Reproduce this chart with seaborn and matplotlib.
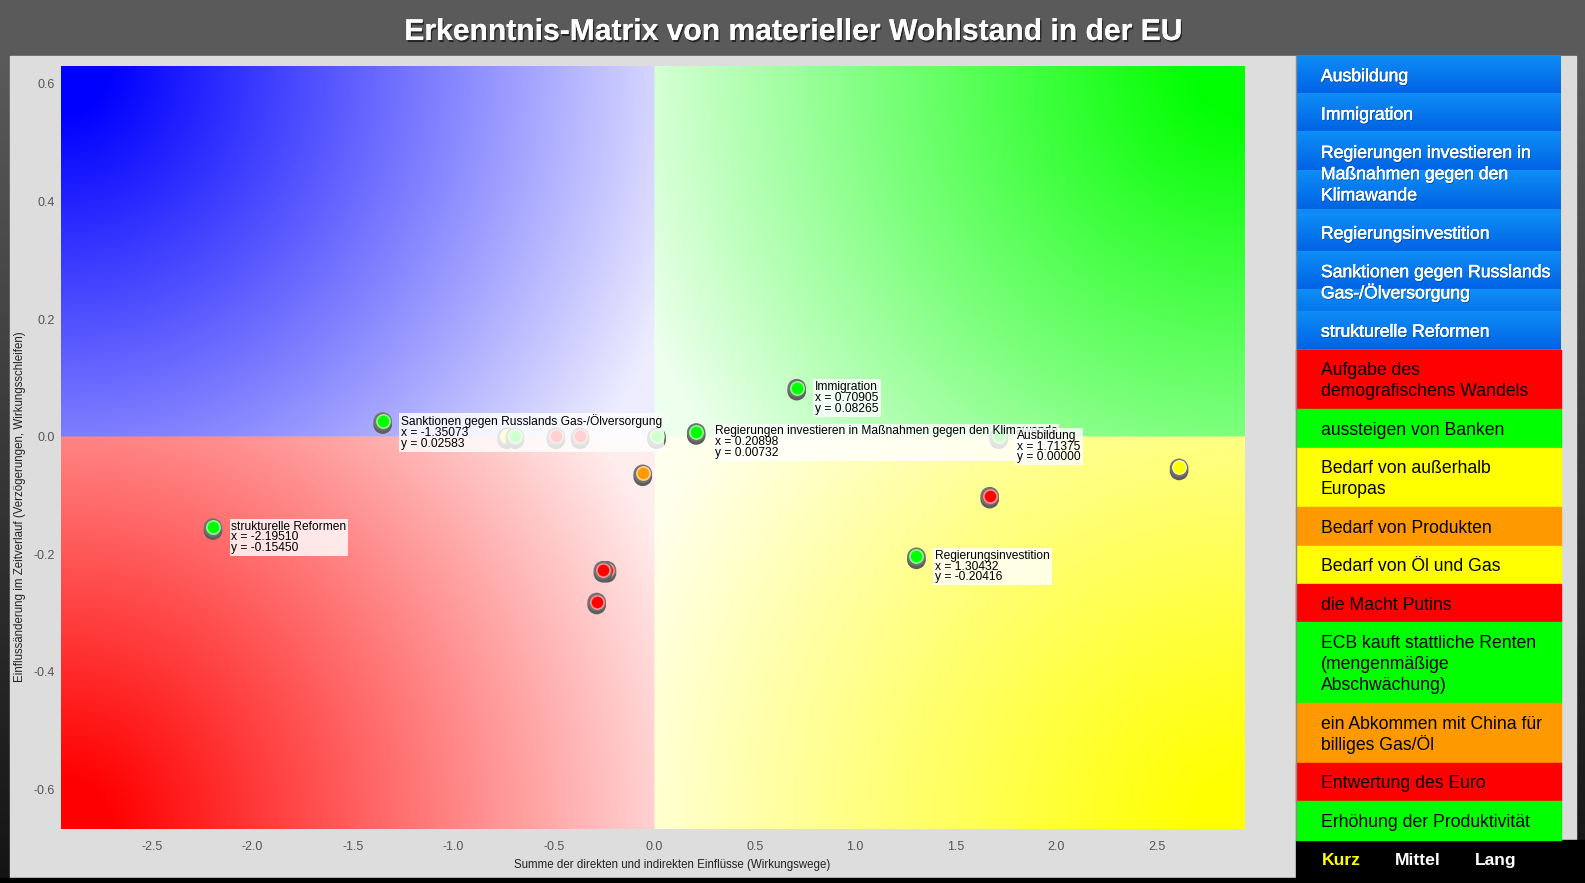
import numpy as np
import pandas as pd
import matplotlib
matplotlib.use("Agg")
import matplotlib.pyplot as plt
import matplotlib.patheffects as pe
import matplotlib.transforms as mtransforms
from matplotlib.patches import Rectangle
import seaborn as sns

# ---------------- data ----------------
TITLE = "Erkenntnis-Matrix von materieller Wohlstand in der EU"
X_LABEL = "Summe der direkten und indirekten Einflüsse (Wirkungswege)"
Y_LABEL = "Einflussänderung im Zeitverlauf (Verzögerungen, Wirkungsschleifen)"

x_ticks = [-2.5, -2.0, -1.5, -1.0, -0.5, 0.0, 0.5, 1.0, 1.5, 2.0, 2.5]
y_ticks = [-0.6, -0.4, -0.2, 0.0, 0.2, 0.4, 0.6]

# unlabelled factors (drawn first)
other_x = [-0.734, -0.693, -0.489, -0.369, 0.012, -0.057, 2.611, 1.669, -0.235, -0.255, -0.286]
other_y = [0.0, 0.0, 0.0, 0.0, 0.0, -0.063, -0.053, -0.101, -0.227, -0.227, -0.281]
other_colors = ["#ffff00", "#00ff00", "#ff0000", "#ff0000", "#00ff00", "#ff9900",
                "#ffff00", "#ff0000", "#ff0000", "#ff0000", "#ff0000"]

# selected (labelled) factors
sel_names = ["Sanktionen gegen Russlands Gas-/Ölversorgung", "strukturelle Reformen",
             "Immigration", "Regierungen investieren in Maßnahmen gegen den Klimawende",
             "Ausbildung", "Regierungsinvestition"]
sel_x = [-1.35073, -2.19510, 0.70905, 0.20898, 1.71375, 1.30432]
sel_y = [0.02583, -0.15450, 0.08265, 0.00732, 0.00000, -0.20416]
sel_colors = ["#00ff00"] * 6

legend_labels = ["Ausbildung", "Immigration",
                 "Regierungen investieren in\nMaßnahmen gegen den\nKlimawande",
                 "Regierungsinvestition", "Sanktionen gegen Russlands\nGas-/Ölversorgung",
                 "strukturelle Reformen", "Aufgabe des\ndemografischens Wandels",
                 "aussteigen von Banken", "Bedarf von außerhalb\nEuropas",
                 "Bedarf von Produkten", "Bedarf von Öl und Gas", "die Macht Putins",
                 "ECB kauft stattliche Renten\n(mengenmäßige\nAbschwächung)",
                 "ein Abkommen mit China für\nbilliges Gas/Öl", "Entwertung des Euro",
                 "Erhöhung der Produktivität"]
legend_colors = ["selected"] * 6 + ["#ff0000", "#00ff00", "#ffff00", "#ff9900", "#ffff00",
                                    "#ff0000", "#00ff00", "#ff9900", "#ff0000", "#00ff00"]
horizon_labels = ["Kurz", "Mittel", "Lang"]
horizon_colors = ["#ffff00", "#ffffff", "#ffffff"]

# ---------------- style ----------------
sns.set_theme(style="white")
plt.rcParams["font.family"] = ["Liberation Sans", "DejaVu Sans"]
plt.rcParams["axes.unicode_minus"] = False

W, H = 1585, 883
fig = plt.figure(figsize=(W / 100, H / 100), dpi=100)

# pixel-space background axes
bg = fig.add_axes([0, 0, 1, 1], zorder=0)
bg.axis("off")
g = np.linspace(0, 1, 200)[:, None]
top_c = np.array([0x5a, 0x5a, 0x5a]) / 255
bot_c = np.array([0x14, 0x14, 0x14]) / 255
grad = np.where(g < 56 / H, 0, (g - 56 / H) / (1 - 56 / H))
img = top_c[None, None, :] * (1 - grad[..., None]) + bot_c[None, None, :] * grad[..., None]
bg.imshow(img, extent=(0, W, H, 0), aspect="auto", origin="upper", zorder=0)

bg.add_patch(Rectangle((10, 55.6), 1286, 822, color="#dddddd", zorder=1))
bg.add_patch(Rectangle((1561, 55.6), 15, 784.4, color="#dcdcdc", zorder=1))
bg.add_patch(Rectangle((1296, 840), W - 1296, 44, color="black", zorder=1))
bg.add_patch(Rectangle((0, 877.5), W, 6, color="black", zorder=1))

# title
t = bg.text(W / 2, 32, TITLE, ha="center", va="center", color="white",
            fontsize=20, fontweight="bold", zorder=5,
            path_effects=[pe.withSimplePatchShadow(offset=(1, -1.5), shadow_rgbFace="#222222", alpha=0.9),
                          pe.Normal()])
fig.canvas.draw()
tw = t.get_window_extent().width
t.set_fontsize(20 * 777 / tw)

# legend rows
blue_top = np.array([14, 142, 246]) / 255
blue_bot = np.array([0, 98, 228]) / 255
y0 = 55.6
lx0, lx1 = 1296, 1561
for lab, col in zip(legend_labels, legend_colors):
    lines = lab.split("\n")
    h = 38.4 + 21.2 * (len(lines) - 1)
    if col == "selected":
        rr = np.arange(int(np.ceil(h))) + 0.5
        fr = (rr % 38.4) / 38.4
        tile = blue_top[None, :] * (1 - fr[:, None]) + blue_bot[None, :] * fr[:, None]
        bg.imshow(tile[:, None, :], extent=(lx0, lx1, y0 + h, y0), aspect="auto",
                  origin="upper", zorder=2)
        tc = "white"
        eff = [pe.withStroke(linewidth=0.4, foreground="white"),
               pe.withSimplePatchShadow(offset=(0.6, -0.8), shadow_rgbFace="#003070", alpha=0.6),
               pe.Normal()]
    else:
        bg.add_patch(Rectangle((lx0, y0), lx1 - lx0, h, color=col, zorder=2))
        tc = "black"
        eff = None
    for k, ln in enumerate(lines):
        bg.text(1321, y0 + 19.3 + 21.2 * k + 6.3, ln, ha="left", va="baseline",
                fontsize=12.7, color=tc, zorder=3, path_effects=eff)
    y0 += h
bg.plot([1295.5, 1295.5], [55.6, 840], color="#8a8a8a", lw=1, zorder=3)

for lab, col, xx in zip(horizon_labels, horizon_colors, [1322, 1395, 1475]):
    bg.text(xx, 865, lab, ha="left", va="baseline", fontsize=12.6, fontweight="bold",
            color=col, zorder=3)

# axis labels (placed in pixel space)
bg.text(672, 865, X_LABEL, ha="center", va="center", fontsize=8.3, color="#222222", zorder=3)
bg.text(20.5, 507, Y_LABEL, ha="center", va="center", rotation=90, fontsize=8.3,
        color="#222222", zorder=3)

bg.set_xlim(0, W)
bg.set_ylim(H, 0)

# ---------------- main axes ----------------
xmin, xmax = -2.953, 2.934
ymin, ymax = -0.667, 0.631
ax_l, ax_r, ax_t, ax_b = 60.6, 1244, 65.7, 829
ax = fig.add_axes([ax_l / W, 1 - ax_b / H, (ax_r - ax_l) / W, (ax_b - ax_t) / H], zorder=2)

# quadrant gradient background
Wp, Hp = int(ax_r - ax_l), int(ax_b - ax_t)
XX, YY = np.meshgrid(np.arange(Wp) + 0.5, np.arange(Hp) + 0.5)
cx = (0 - xmin) / (xmax - xmin) * Wp
cy = (ymax - 0) / (ymax - ymin) * Hp
left = XX < cx
upper = YY < cy
kx = np.where(left, 0, Wp)
ky = np.where(upper, 0, Hp)
D = np.hypot(cx - kx, cy - ky)
tt = np.clip((np.hypot(XX - kx, YY - ky) / D - 0.07) / 0.93, 0, 0.93)[..., None]
base = np.zeros((Hp, Wp, 3))
base[upper & left] = [0, 0, 1]
base[upper & ~left] = [0, 1, 0]
base[~upper & left] = [1, 0, 0]
base[~upper & ~left] = [1, 1, 0]
quad = base * (1 - tt) + tt
ax.imshow(quad, extent=(xmin, xmax, ymin, ymax), aspect="auto", origin="upper", zorder=0)

pts = pd.DataFrame({
    "x": other_x + sel_x,
    "y": other_y + sel_y,
    "color": other_colors + sel_colors,
})

shadow_tr = mtransforms.offset_copy(ax.transData, fig=fig, x=0, y=-3, units="dots")
dot_tr = mtransforms.offset_copy(ax.transData, fig=fig, x=0, y=0.5, units="dots")
for i, row in pts.iterrows():
    one = pts.iloc[[i]]
    sns.scatterplot(data=one, x="x", y="y", ax=ax, s=180, color="#5d5d5d",
                    edgecolor="none", transform=shadow_tr, zorder=3, legend=False)
    sns.scatterplot(data=one, x="x", y="y", ax=ax, s=180, color="#727272",
                    edgecolor="none", zorder=3, legend=False)
    c = np.array(matplotlib.colors.to_rgb(row["color"]))
    ring = 0.45 * c + 0.55
    sns.scatterplot(data=one, x="x", y="y", ax=ax, s=90, color=row["color"],
                    edgecolor=ring, linewidth=1.2, transform=dot_tr, zorder=3, legend=False)

for name, xv, yv in zip(sel_names, sel_x, sel_y):
    ax.annotate(f"{name}\nx = {xv:.5f}\ny = {yv:.5f}", xy=(xv, yv),
                xytext=(18.5, 7), textcoords="offset pixels", ha="left", va="top",
                fontsize=8.65, color="black", linespacing=0.86, zorder=4,
                bbox=dict(boxstyle="square,pad=0.16", fc=(1, 1, 1, 0.82), ec="none"))

ax.set_xlim(xmin, xmax)
ax.set_ylim(ymin, ymax)
ax.set_xticks(x_ticks)
ax.set_yticks(y_ticks)
ax.set_xticklabels([f"{v:.1f}" for v in x_ticks])
ax.set_yticklabels([f"{v:.1f}" for v in y_ticks])
ax.tick_params(length=0, labelsize=9, labelcolor="#555555")
ax.tick_params(axis="x", pad=8.5)
ax.tick_params(axis="y", pad=4)
ax.set_xlabel("")
ax.set_ylabel("")
for s in ax.spines.values():
    s.set_visible(False)

fig.savefig("out.png", dpi=100)
